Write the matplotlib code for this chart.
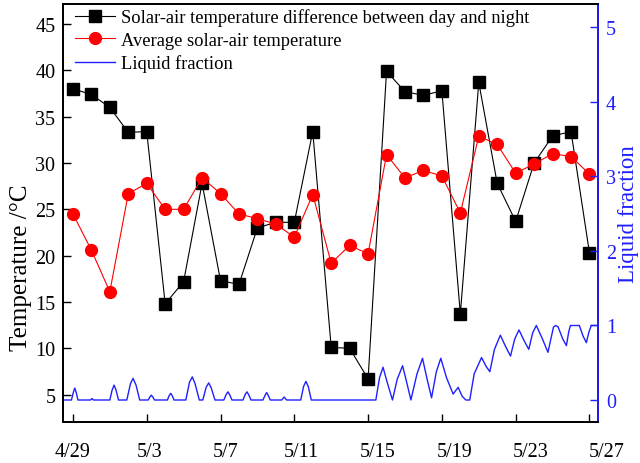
import numpy as np
import matplotlib
matplotlib.use("Agg")
import matplotlib.pyplot as plt

plt.rcParams['font.family'] = ['Liberation Serif', 'DejaVu Serif']

# day index 0 = 4/29
days = list(range(29))
temp_diff = [38.0, 37.4, 36.0, 33.3, 33.4, 14.8, 17.2, 27.8, 17.3, 16.9,
             23.0, 23.6, 23.6, 33.4, 10.1, 10.0, 6.7, 39.9, 37.7, 37.3,
             37.8, 13.7, 38.7, 27.8, 23.7, 30.0, 32.9, 33.4, 20.3]
temp_avg = [24.5, 20.6, 16.1, 26.7, 27.8, 25.0, 25.0, 28.4, 26.7, 24.5,
            24.0, 23.4, 22.0, 26.6, 19.2, 21.1, 20.2, 30.9, 28.4, 29.2,
            28.6, 24.6, 32.9, 32.0, 28.9, 29.9, 31.0, 30.7, 28.8]

# liquid fraction trace (time in days from 4/29)
lf_time = [-0.54, -0.08, 0.02, 0.10, 0.18, 0.27, 0.95, 1.03, 1.11,
           2.00, 2.12, 2.23, 2.34, 2.47, 2.92, 3.12, 3.26, 3.42, 3.62,
           4.08, 4.17, 4.25, 4.33, 4.42, 5.12, 5.22, 5.30, 5.38, 5.48,
           6.12, 6.32, 6.47, 6.62, 6.85, 7.04, 7.22, 7.36, 7.50, 7.70,
           8.18, 8.30, 8.40, 8.50, 8.62, 9.22, 9.33, 9.43, 9.53, 9.65,
           10.30, 10.41, 10.50, 10.59, 10.70, 11.32, 11.45, 11.58,
           12.35, 12.50, 12.63, 12.76, 12.92, 16.42,
           16.62, 16.81, 17.02, 17.32, 17.58, 17.87, 18.08, 18.32,
           18.65, 18.95, 19.18, 19.44, 19.70, 19.94, 20.25, 20.61,
           20.88, 21.10, 21.30, 21.51, 21.75, 22.15, 22.40, 22.60,
           22.85, 23.17, 23.45, 23.72, 23.95, 24.18, 24.45, 24.71,
           24.92, 25.12, 25.45, 25.75, 25.98, 26.05, 26.17, 26.30,
           26.55, 26.75, 26.88, 26.97, 27.45, 27.65, 27.83, 27.98,
           28.10, 28.60]
lf_val = [0, 0, 0.10, 0.16, 0.10, 0, 0, 0.02, 0,
          0, 0.13, 0.20, 0.13, 0, 0, 0.22, 0.29, 0.20, 0,
          0, 0.04, 0.065, 0.04, 0, 0, 0.06, 0.09, 0.06, 0,
          0, 0.24, 0.31, 0.22, 0, 0, 0.17, 0.23, 0.16, 0,
          0, 0.07, 0.11, 0.07, 0, 0, 0.07, 0.11, 0.07, 0,
          0, 0.06, 0.10, 0.06, 0, 0, 0.04, 0,
          0, 0.18, 0.25, 0.18, 0, 0,
          0.30, 0.44, 0.25, 0, 0.28, 0.46, 0.25, 0,
          0.35, 0.56, 0.30, 0.03, 0.38, 0.56, 0.30, 0.08,
          0.17, 0.05, 0.0, 0.0, 0.35, 0.57, 0.45, 0.38,
          0.68, 0.87, 0.72, 0.59, 0.82, 0.94, 0.80, 0.68,
          0.90, 1.0, 0.82, 0.64, 0.90, 0.98, 1.0, 0.98,
          0.82, 0.73, 0.92, 1.0, 1.0, 0.86, 0.77, 0.92,
          1.0, 1.0]

tick_days = [0, 4, 8, 12, 16, 20, 24, 28]
tick_labels = ['4/29', '5/3', '5/7', '5/11', '5/15', '5/19', '5/23', '5/27']

BLUE = '#1f1fff'

fig = plt.figure(figsize=(6.4, 4.64), dpi=100)
ax = fig.add_axes([0.0984, 0.0884, 0.8356, 0.9016])
ax2 = ax.twinx()

l1, = ax.plot(days, temp_diff, color='black', lw=0.8, marker='s', ms=8,
              label='Solar-air temperature difference between day and night')
l2, = ax.plot(days, temp_avg, color='red', lw=0.8, marker='o', ms=8.5,
              label='Average solar-air temperature')
l3, = ax2.plot(lf_time, lf_val, color=BLUE, lw=1.0, label='Liquid fraction')

ax.set_xlim(-0.54, 28.45)
ax.set_ylim(2.05, 47.2)
ax2.set_ylim(-0.295, 5.32)

# tick marks on the days, labels drawn a little spread out like the original
ax.set_xticks(tick_days)
ax.set_xticklabels([])
for i, lab in enumerate(tick_labels):
    ax.annotate(lab, xy=(0.0187 + i * 0.1426, 0), xycoords='axes fraction',
                xytext=(0, -14.5), textcoords='offset points',
                ha='center', va='top', fontsize=14.5, annotation_clip=False)

ax.set_yticks([5, 10, 15, 20, 25, 30, 35, 40, 45])
ax2.set_yticks([0, 1, 2, 3, 4, 5])

ax.tick_params(direction='in', length=6, width=1.0, labelsize=14.5)
ax.tick_params(axis='y', pad=5.5)
ax2.tick_params(direction='in', length=6, width=1.0, labelsize=14.5,
                colors=BLUE, pad=6)
for s in ax.spines.values():
    s.set_linewidth(1.3)
for s in ax2.spines.values():
    s.set_linewidth(1.3)
ax2.spines['right'].set_color(BLUE)

ax.set_ylabel('Temperature /\u00b0C', fontsize=18)
ax.yaxis.set_label_coords(-0.058, 0.37)
ax2.set_ylabel('Liquid fraction', fontsize=16.5, color=BLUE, labelpad=1)

ax.legend(handles=[l1, l2, l3], loc='upper left', frameon=False,
          fontsize=13.3, handlelength=2.16, labelspacing=0.3,
          borderaxespad=0, borderpad=0.25, handletextpad=0.3,
          bbox_to_anchor=(0.014, 1.0))

fig.savefig('out.png', dpi=100)
